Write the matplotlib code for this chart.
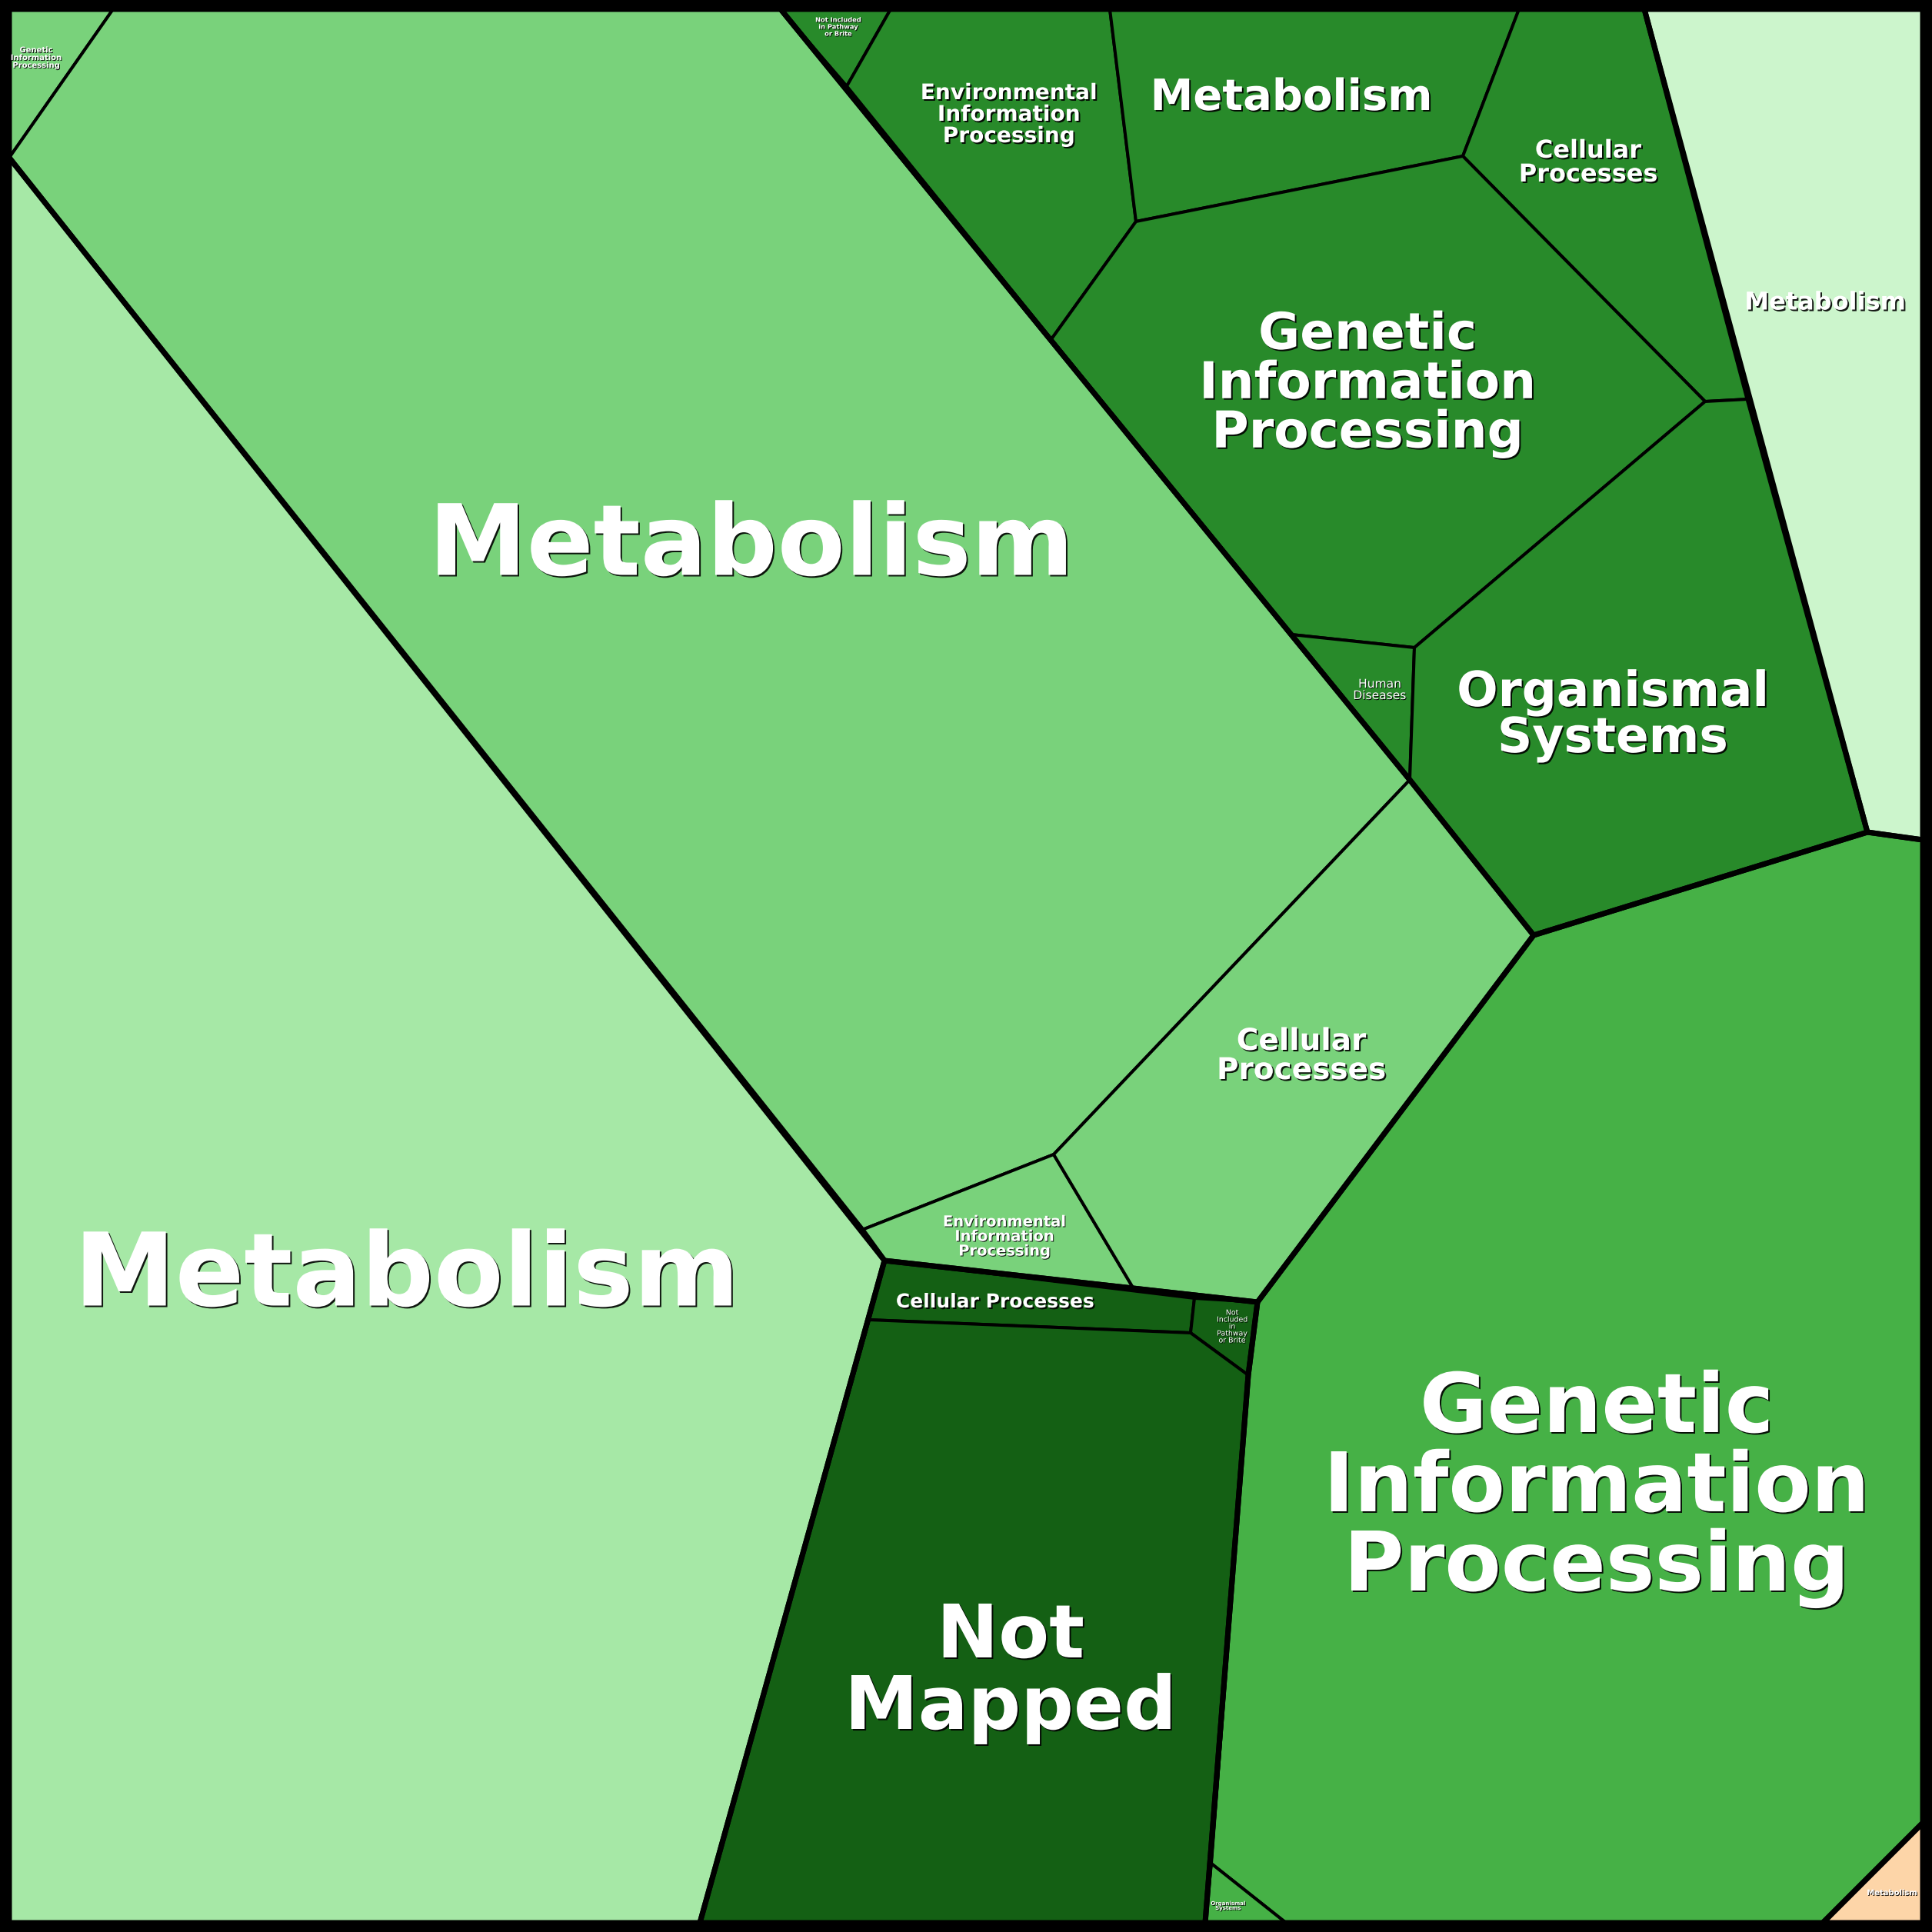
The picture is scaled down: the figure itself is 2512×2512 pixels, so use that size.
import matplotlib
matplotlib.use("Agg")
import matplotlib.pyplot as plt
import matplotlib.patheffects as pe
from matplotlib.patches import Polygon, Rectangle

# Voronoi treemap of KEGG categories, cell outlines in pixel coords (2512 x 2512 canvas)
SIZE = 2512

c_light = "#a6e8a6"
c_mid = "#79d27b"
c_dark = "#288a2a"
c_mint = "#ccf5cc"
c_med = "#46b146"
c_darkest = "#146014"
c_peach = "#fdd5a8"

cell_names = [
    "Genetic\nInformation\nProcessing", "Metabolism", "Environmental\nInformation\nProcessing",
    "Cellular\nProcesses", "Metabolism", "Not Included\nin Pathway\nor Brite",
    "Environmental\nInformation\nProcessing", "Metabolism", "Cellular\nProcesses",
    "Genetic\nInformation\nProcessing", "Human\nDiseases", "Organismal\nSystems", "Metabolism",
    "Genetic\nInformation\nProcessing", "Organismal\nSystems", "Cellular Processes",
    "Not\nIncluded\nin\nPathway\nor Brite", "Not\nMapped", "Metabolism",
]
cell_colors = [
    c_mid, c_mid, c_mid, c_mid, c_light, c_dark, c_dark, c_dark, c_dark, c_dark, c_dark,
    c_dark, c_mint, c_med, c_med, c_darkest, c_darkest, c_darkest, c_peach,
]
cell_shapes = [
    [(12, 12), (147, 12), (12, 205)],
    [(147, 12), (1015, 12), (1833, 1014), (1370, 1501), (1121, 1599), (12, 205)],
    [(1121, 1599), (1370, 1501), (1473, 1674), (1150, 1639)],
    [(1833, 1014), (1994, 1216), (1635, 1693), (1473, 1674), (1370, 1501)],
    [(12, 205), (1121, 1599), (1150, 1639), (910, 2500), (12, 2500)],
    [(1015, 12), (1158, 12), (1101, 112)],
    [(1101, 112), (1158, 12), (1443, 12), (1477, 288), (1367, 441)],
    [(1443, 12), (1975, 12), (1902, 203), (1477, 288)],
    [(1975, 12), (2138, 12), (2273, 519), (2217, 522), (1902, 203)],
    [(1902, 203), (2217, 522), (1839, 842), (1679, 825), (1367, 441), (1477, 288)],
    [(1679, 825), (1839, 842), (1833, 1014)],
    [(2217, 522), (2273, 519), (2428, 1082), (1994, 1216), (1833, 1014), (1839, 842)],
    [(2138, 12), (2500, 12), (2500, 1092), (2428, 1082)],
    [(2428, 1082), (2500, 1092), (2500, 2370), (2370, 2500), (1672, 2500), (1575, 2423),
     (1623, 1788), (1635, 1693), (1994, 1216)],
    [(1575, 2423), (1672, 2500), (1567, 2500)],
    [(1150, 1639), (1553, 1688), (1548, 1733), (1130, 1716)],
    [(1553, 1688), (1635, 1693), (1623, 1788), (1548, 1733)],
    [(1130, 1716), (1548, 1733), (1623, 1788), (1567, 2500), (910, 2500)],
    [(2500, 2370), (2500, 2500), (2370, 2500)],
]
label_xy = [
    (47, 75), (977, 712), (1306, 1608), (1692, 1373), (529, 1661), (1090, 35),
    (1312, 149), (1679, 128), (2065, 212), (1778, 500), (1794, 897), (2097, 931),
    (2373, 394), (2076, 1936), (1597, 2478), (1294, 1693), (1602, 1725), (1314, 2175),
    (2460, 2461),
]
label_px = [10, 128, 19.5, 39, 132, 8.3, 28, 56, 32, 66, 15.5, 63, 32, 107, 7, 25, 9.4, 96, 10]
label_bold = [True] * 19
label_bold[10] = False
label_bold[16] = False

# top level groups (thicker outline)
group_shapes = [
    [(12, 12), (1015, 12), (1833, 1014), (1994, 1216), (1635, 1693), (1150, 1639), (12, 205)],
    [(12, 205), (1121, 1599), (1150, 1639), (910, 2500), (12, 2500)],
    [(1015, 12), (2138, 12), (2273, 519), (2428, 1082), (1994, 1216), (1833, 1014)],
    [(2138, 12), (2500, 12), (2500, 1092), (2428, 1082)],
    [(2428, 1082), (2500, 1092), (2500, 2370), (2370, 2500), (1567, 2500), (1623, 1788),
     (1635, 1693), (1994, 1216)],
    [(1150, 1639), (1635, 1693), (1623, 1788), (1567, 2500), (910, 2500)],
    [(2500, 2370), (2500, 2500), (2370, 2500)],
]

dpi = 100
px = 72 / dpi  # points per pixel

fig = plt.figure(figsize=(SIZE / dpi, SIZE / dpi), dpi=dpi)
ax = fig.add_axes([0, 0, 1, 1])
ax.set_xlim(0, SIZE)
ax.set_ylim(SIZE, 0)
ax.axis("off")

for shape, col in zip(cell_shapes, cell_colors):
    ax.add_patch(Polygon(shape, closed=True, facecolor=col, edgecolor="black",
                         linewidth=4 * px, joinstyle="round"))

for shape in group_shapes:
    ax.add_patch(Polygon(shape, closed=True, facecolor="none", edgecolor="black",
                         linewidth=7 * px, joinstyle="round"))

ax.add_patch(Rectangle((6, 6), SIZE - 12, SIZE - 12, facecolor="none",
                       edgecolor="black", linewidth=12 * px))

for name, (x, y), size, bold in zip(cell_names, label_xy, label_px, label_bold):
    off = 2.0 if size > 20 else 1.0
    t = ax.text(x, y, name, ha="center", va="center", color="white",
                fontsize=size * px, fontweight="bold" if bold else "normal",
                family="DejaVu Sans", linespacing=1.0, multialignment="center")
    t.set_path_effects([pe.withSimplePatchShadow(offset=(off * px, -off * px),
                                                 shadow_rgbFace="black", alpha=0.9)])

fig.savefig("out.png", dpi=dpi)
